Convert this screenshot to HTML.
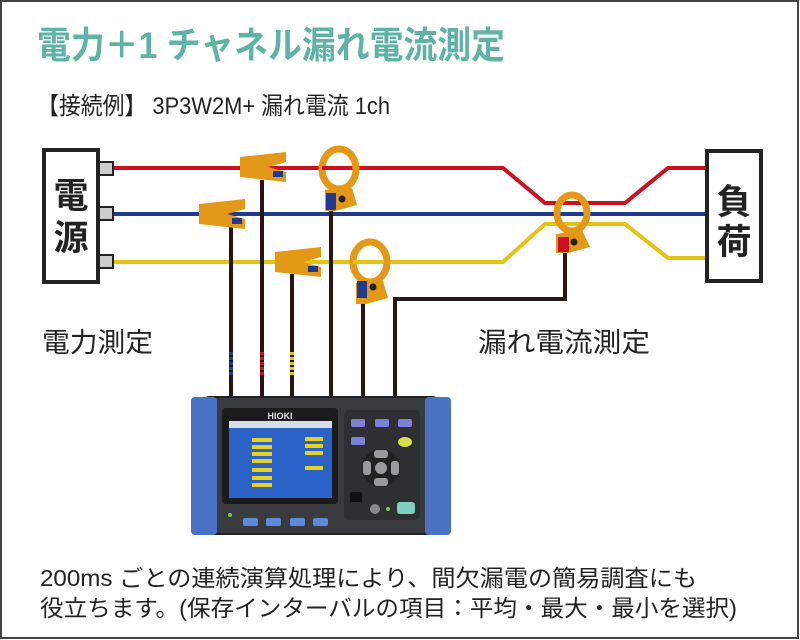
<!DOCTYPE html>
<html><head><meta charset="utf-8"><style>
html,body{margin:0;padding:0;background:#fff}
svg{display:block}
text{font-family:"Liberation Sans","Noto Sans CJK JP",sans-serif}
</style></head><body>
<svg width="800" height="640" viewBox="0 0 800 640" xmlns="http://www.w3.org/2000/svg">
<rect x="0" y="0" width="800" height="640" fill="#fff"/>
<rect x="1" y="1" width="797" height="637" fill="none" stroke="#444" stroke-width="2"/>
<text x="37" y="58" font-size="37" fill="#5fb3a5" font-weight="bold" textLength="468" lengthAdjust="spacingAndGlyphs">電力＋1 チャネル漏れ電流測定</text>
<text x="37" y="114" font-size="24" fill="#222" textLength="353" lengthAdjust="spacingAndGlyphs">【接続例】 3P3W2M+ 漏れ電流 1ch</text>

<g fill="none" stroke-width="4">
<polyline points="98,168 503,168 545,203 625,203 668,168 706,168" stroke="#cc1020"/>
<polyline points="98,214 706,214" stroke="#1f3a8f"/>
<polyline points="98,262 503,262 545,224 625,224 668,258 706,258" stroke="#e2c412"/>
</g>
<rect x="44" y="150" width="54" height="132" fill="#fff" stroke="#222" stroke-width="4"/>
<g fill="#ccc" stroke="#222" stroke-width="2"><rect x="99" y="162" width="14" height="13"/><rect x="99" y="207" width="14" height="13"/><rect x="99" y="255" width="14" height="13"/></g>
<text x="71" y="208" font-size="35" font-weight="bold" text-anchor="middle" fill="#222">電</text>
<text x="71" y="250" font-size="35" font-weight="bold" text-anchor="middle" fill="#222">源</text>
<rect x="707" y="151" width="54" height="130" fill="#fff" stroke="#222" stroke-width="4"/>
<text x="734" y="214" font-size="35" font-weight="bold" text-anchor="middle" fill="#222">負</text>
<text x="734" y="254" font-size="35" font-weight="bold" text-anchor="middle" fill="#222">荷</text>

<text x="42" y="352" font-size="27" fill="#222" textLength="111" lengthAdjust="spacingAndGlyphs">電力測定</text>
<text x="478" y="352" font-size="27" fill="#222" textLength="172" lengthAdjust="spacingAndGlyphs">漏れ電流測定</text>

<g stroke="#231815" stroke-width="4" fill="none">
<line x1="231" y1="226" x2="231" y2="400"/>
<line x1="262" y1="180" x2="262" y2="400"/>
<line x1="292" y1="274" x2="292" y2="400"/>
<line x1="331" y1="208" x2="331" y2="400"/>
<line x1="363" y1="298" x2="363" y2="400"/>
<polyline points="395,400 395,299 565,299 565,252"/>
</g>
<g stroke-width="4"><line x1="231" y1="352" x2="231" y2="377" stroke="#1f3a8f" stroke-dasharray="3,2"/><line x1="262" y1="352" x2="262" y2="377" stroke="#cc1020" stroke-dasharray="3,2"/><line x1="292" y1="352" x2="292" y2="377" stroke="#e2c412" stroke-dasharray="3,2"/></g>

<g fill="#e39817">
<polygon points="240,157 286,152 286,162 268,167 286,172 286,182 240,177"/>
<polygon points="199,204 245,199 245,209 227,214 245,219 245,229 199,224"/>
<polygon points="275,252 321,247 321,257 303,262 321,267 321,277 275,272"/>
</g>
<g fill="#1f3a8f"><rect x="273" y="171" width="10" height="6"/><rect x="232" y="218" width="10" height="6"/><rect x="308" y="266" width="10" height="6"/></g>
<g fill="none" stroke="#e39817" stroke-width="7"><ellipse cx="339" cy="169" rx="17" ry="20"/><ellipse cx="370" cy="262" rx="17" ry="20"/><ellipse cx="572" cy="213" rx="15" ry="18"/></g>
<g fill="#e39817"><polygon points="325,190 352,188 357,205 335,211 325,211"/><polygon points="356,283 383,281 388,298 366,304 356,304"/><polygon points="556,234 582,230 590,247 568,253 556,253"/></g>
<rect x="326" y="193" width="10" height="17" fill="#1f3a8f"/><circle cx="342" cy="199" r="3.5" fill="#222"/>
<rect x="357" y="281" width="10" height="17" fill="#1f3a8f"/><circle cx="373" cy="287" r="3.5" fill="#222"/>
<rect x="558" y="237" width="11" height="15" fill="#cc1020"/><circle cx="574" cy="242" r="3.5" fill="#222"/>
<line x1="322" y1="168" x2="330" y2="168" stroke="#cc1020" stroke-width="4"/>
<line x1="353" y1="262" x2="362" y2="262" stroke="#e2c412" stroke-width="4"/>

<rect x="205" y="397" width="232" height="137" rx="4" fill="#3a3b3e" stroke="#222" stroke-width="2"/>
<rect x="191" y="397" width="26" height="138" rx="4" fill="#4a72c4"/>
<rect x="425" y="397" width="26" height="138" rx="4" fill="#4a72c4"/>
<rect x="222" y="408" width="116" height="96" rx="4" fill="#1b1b1d"/>
<text x="280" y="419" font-size="9" font-weight="bold" fill="#ddd" text-anchor="middle">HIOKI</text>
<rect x="229" y="421" width="103" height="77" fill="#2a62c8"/>
<rect x="229" y="421" width="103" height="7" fill="#d8dde8"/>
<g fill="#e8d020"><rect x="252" y="438" width="20" height="4"/><rect x="252" y="445" width="20" height="4"/><rect x="252" y="452" width="20" height="4"/><rect x="252" y="459" width="20" height="4"/><rect x="252" y="468" width="20" height="4"/><rect x="252" y="476" width="20" height="4"/><rect x="252" y="483" width="20" height="4"/><rect x="305" y="437" width="18" height="4"/><rect x="305" y="444" width="18" height="4"/><rect x="305" y="451" width="18" height="4"/><rect x="305" y="466" width="18" height="4"/></g>
<g fill="#5b8ad6"><rect x="243" y="518" width="15" height="8" rx="2"/><rect x="266" y="518" width="15" height="8" rx="2"/><rect x="290" y="518" width="15" height="8" rx="2"/><rect x="313" y="518" width="15" height="8" rx="2"/></g>
<rect x="344" y="410" width="76" height="110" rx="5" fill="#2e2f32"/>
<g fill="#7d7fd8"><rect x="351" y="419" width="14" height="8" rx="2"/><rect x="375" y="419" width="14" height="8" rx="2"/><rect x="398" y="419" width="14" height="8" rx="2"/><rect x="351" y="437" width="14" height="8" rx="2"/></g>
<ellipse cx="405" cy="442" rx="7" ry="5" fill="#d6e04a"/>
<circle cx="381" cy="468" r="19" fill="#222"/>
<g fill="#9a9b9e"><circle cx="381" cy="468" r="6"/><rect x="374" y="450" width="14" height="8" rx="3"/><rect x="374" y="478" width="14" height="8" rx="3"/><rect x="363" y="461" width="8" height="14" rx="3"/><rect x="391" y="461" width="8" height="14" rx="3"/></g>
<rect x="350" y="492" width="12" height="10" rx="2" fill="#111"/>
<circle cx="375" cy="509" r="5" fill="#888"/>
<circle cx="388" cy="509" r="2" fill="#6c4"/>
<rect x="397" y="502" width="18" height="12" rx="3" fill="#7fd0c0"/>
<circle cx="230" cy="515" r="2" fill="#6c4"/>

<text x="40" y="586" font-size="23" fill="#222" textLength="657" lengthAdjust="spacingAndGlyphs">200ms ごとの連続演算処理により、間欠漏電の簡易調査にも</text>
<text x="40" y="616" font-size="23" fill="#222" textLength="697" lengthAdjust="spacingAndGlyphs">役立ちます。(保存インターバルの項目：平均・最大・最小を選択)</text>
</svg>
</body></html>
